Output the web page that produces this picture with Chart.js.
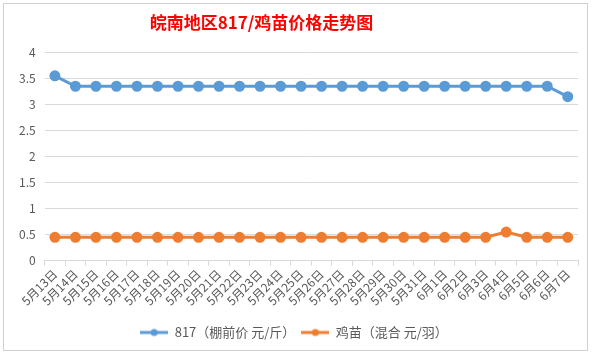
<!DOCTYPE html>
<html><head><meta charset="utf-8">
<script src="https://cdn.jsdelivr.net/npm/chart.js@4/dist/chart.umd.min.js"></script>
<style>
html,body{margin:0;padding:0;background:#fff;}
#wrap{position:absolute;left:3px;top:3px;width:585px;height:348px;border:1px solid #d0d0d0;box-sizing:border-box;background:#fff;}
canvas{display:block;}
</style></head>
<body>
<div id="wrap"><canvas id="c" width="583" height="346"></canvas></div>
<script>
const categories = ["5月13日","5月14日","5月15日","5月16日","5月17日","5月18日","5月19日","5月20日","5月21日","5月22日","5月23日","5月24日","5月25日","5月26日","5月27日","5月28日","5月29日","5月30日","5月31日","6月1日","6月2日","6月3日","6月4日","6月5日","6月6日","6月7日"];
const price817 = [3.55,3.35,3.35,3.35,3.35,3.35,3.35,3.35,3.35,3.35,3.35,3.35,3.35,3.35,3.35,3.35,3.35,3.35,3.35,3.35,3.35,3.35,3.35,3.35,3.35,3.15];
const chickPrice = [0.45,0.45,0.45,0.45,0.45,0.45,0.45,0.45,0.45,0.45,0.45,0.45,0.45,0.45,0.45,0.45,0.45,0.45,0.45,0.45,0.45,0.45,0.55,0.45,0.45,0.45];
const seriesNames = ["817（棚前价 元/斤）","鸡苗（混合 元/羽）"];
const titleText = "皖南地区817/鸡苗价格走势图";

const BLUE = "#5b9bd5", ORANGE = "#ed7d31";
function legendIcon(color){
  const c = document.createElement('canvas');
  c.width = 28; c.height = 10;
  const g = c.getContext('2d');
  g.strokeStyle = color; g.lineWidth = 3; g.lineCap='butt';
  g.beginPath(); g.moveTo(0,5); g.lineTo(28,5); g.stroke();
  g.fillStyle = color; g.beginPath(); g.arc(14,5,3.5,0,Math.PI*2); g.fill();
  return c;
}
const icons = [legendIcon(BLUE), legendIcon(ORANGE)];
const font = "'Microsoft YaHei','Noto Sans CJK SC','DejaVu Sans',sans-serif";

const shiftTitle = {
  id: 'shiftTitle',
  afterLayout(chart){ if (chart.titleBlock) { chart.titleBlock.right -= 65; } }
};

new Chart(document.getElementById('c'), {
  type: 'line',
  plugins: [shiftTitle],
  data: {
    labels: categories,
    datasets: [
      {label: seriesNames[0], data: price817, borderColor: BLUE, backgroundColor: BLUE, borderWidth: 3, pointRadius: 4, pointHoverRadius: 4, tension: 0},
      {label: seriesNames[1], data: chickPrice, borderColor: ORANGE, backgroundColor: ORANGE, borderWidth: 3, pointRadius: 4, pointHoverRadius: 4, tension: 0}
    ]
  },
  options: {
    responsive: false,
    animation: false,
    layout: {padding: {left: 6, right: 9, top: 2, bottom: 1}},
    plugins: {
      title: {display: true, text: titleText, color: '#ff0000', font: {family: font, size: 17, weight: 'bold'}, padding: {top: 6, bottom: 20}},
      legend: {position: 'bottom', labels: {usePointStyle: true, pointStyleWidth: 28, color: '#595959', font: {family: font, size: 13}, padding: 6,
        generateLabels: (chart) => chart.data.datasets.map((d, i) => ({text: d.label, pointStyle: icons[i], fillStyle: d.borderColor, strokeStyle: d.borderColor, lineWidth: 0, hidden: false, datasetIndex: i, fontColor: '#595959'}))
      }},
      tooltip: {enabled: false}
    },
    scales: {
      x: {
        offset: true,
        afterFit: (scale) => { scale.height += 11; },
        grid: {display: true, drawOnChartArea: false, drawTicks: true, tickLength: 5, offset: true, color: '#d9d9d9'},
        border: {display: true, color: '#d9d9d9'},
        ticks: {autoSkip: false, maxRotation: 45, minRotation: 45, color: '#595959', font: {family: font, size: 12}, padding: 1}
      },
      y: {
        min: 0, max: 4,
        ticks: {stepSize: 0.5, color: '#595959', font: {family: font, size: 12}, padding: 9, callback: (v) => String(v)},
        grid: {color: '#d9d9d9', drawTicks: false},
        border: {display: false}
      }
    }
  }
});
</script>
</body></html>
